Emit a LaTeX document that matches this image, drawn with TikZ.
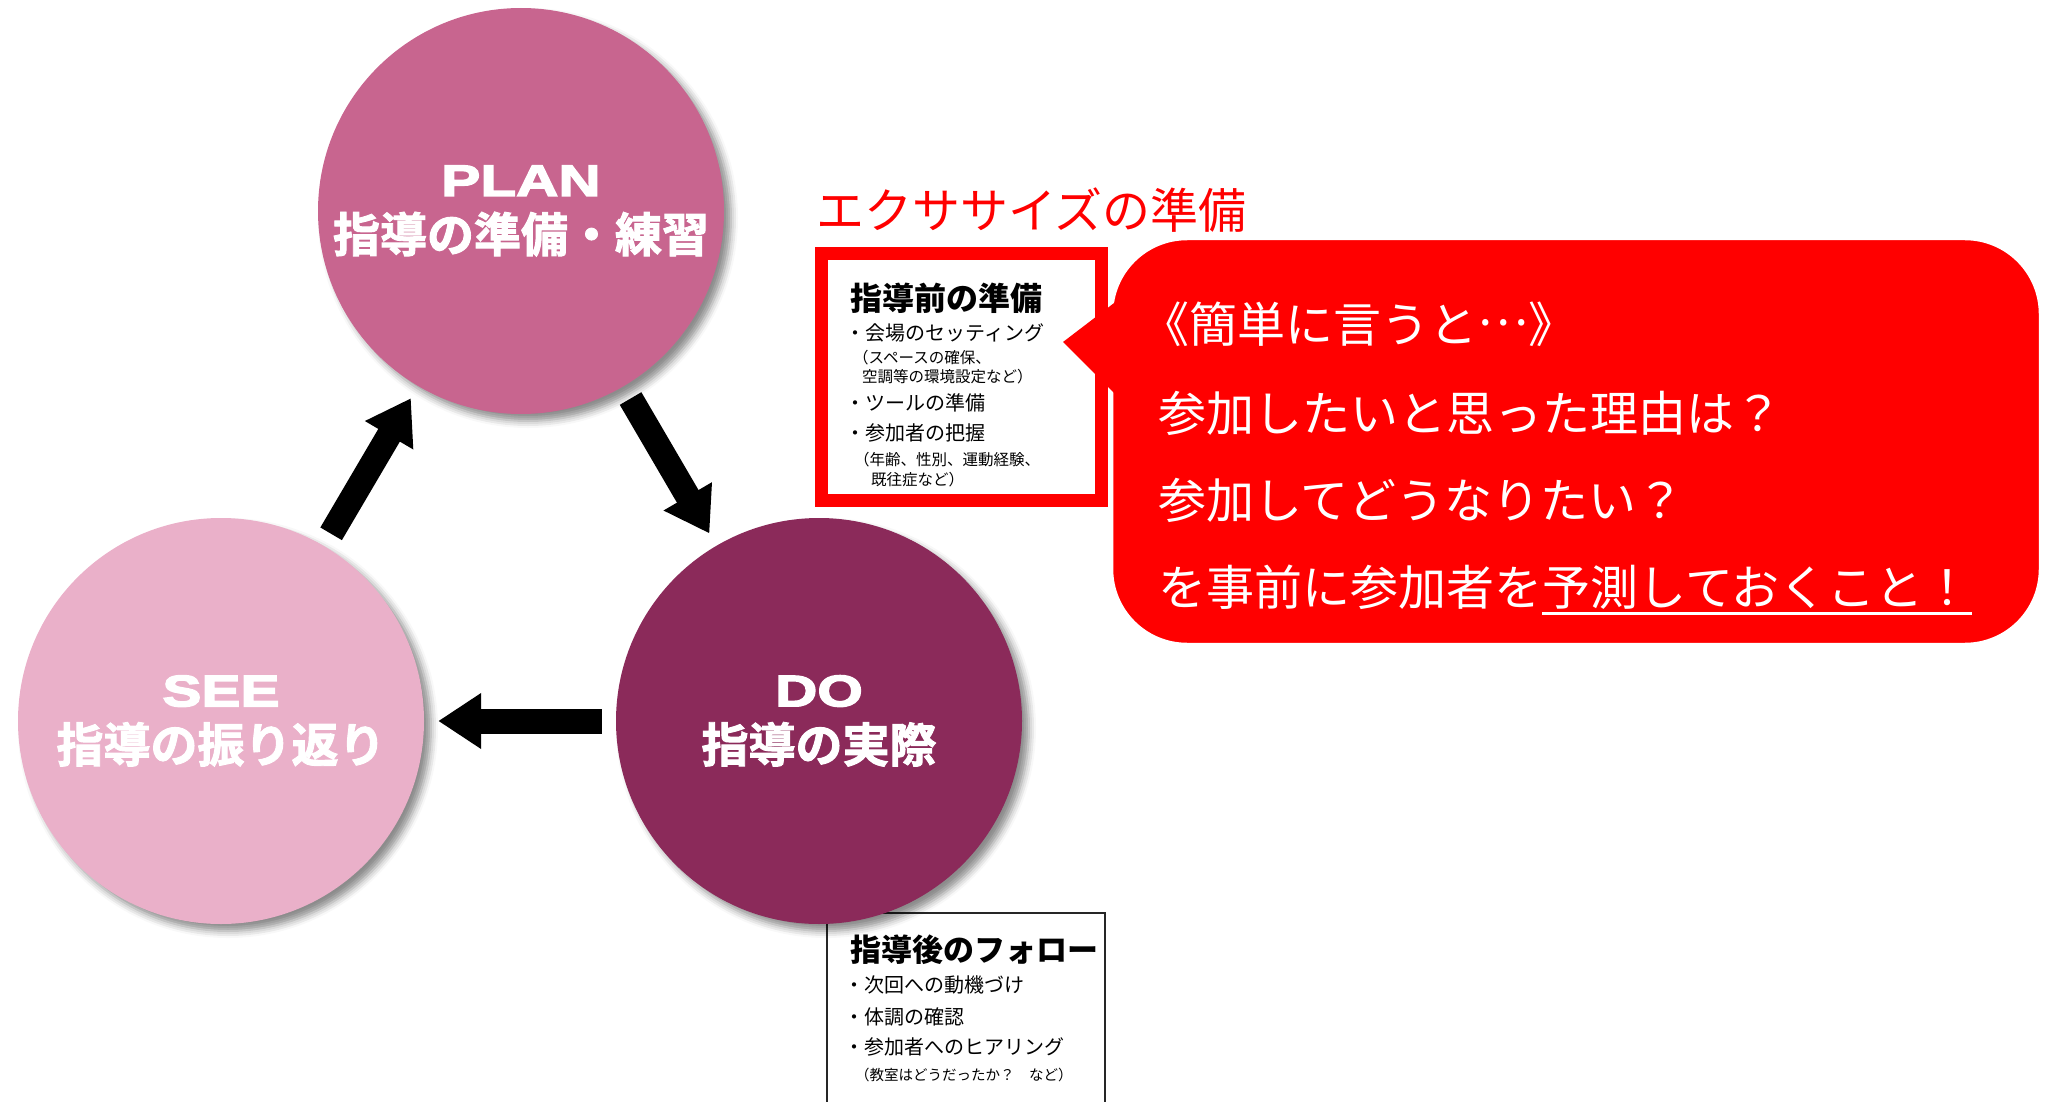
\documentclass[tikz,border=0pt]{standalone}
\usepackage{fontspec}
\setmainfont{Noto Sans CJK JP}
\newfontfamily\widesans[FakeStretch=1.33, FakeBold=3.5]{Liberation Sans Bold}
\newfontfamily\heavyjp[FakeBold=2]{Noto Sans CJK JP Bold}
\usetikzlibrary{positioning,arrows.meta,shadows.blur}

\definecolor{planpink}{RGB}{200,101,143}
\definecolor{doplum}{RGB}{139,42,90}
\definecolor{seepink}{RGB}{234,176,201}
\definecolor{alertred}{RGB}{255,0,0}

\tikzset{
	phasecircle/.style={circle, minimum size=406pt, inner sep=0pt, text=white, align=center,
		font=\fontsize{47}{56}\selectfont\heavyjp,
		blur shadow={shadow xshift=7pt, shadow yshift=-7pt, shadow blur radius=7pt, shadow opacity=45}},
	cyclearrow/.style={line width=25pt, -{Triangle[width=53pt,length=43pt]},
		shorten <=14pt, shorten >=14pt},
	boxtitle/.style={anchor=west, inner sep=0pt, font=\fontsize{32}{32}\selectfont\bfseries},
	boxitem/.style={anchor=west, inner sep=0pt, font=\fontsize{20}{20}\selectfont},
	boxnote/.style={anchor=west, inner sep=0pt, font=\fontsize{15.5}{15.5}\selectfont},
	talk/.style={anchor=west, inner sep=0pt, text=white, font=\fontsize{48}{48}\selectfont}
}

\begin{document}
\begin{tikzpicture}[x=1pt,y=-1pt]
	\useasboundingbox (0,0) rectangle (2046,1102);

	% follow-up box sits under the DO circle
	\node[draw=black!85, line width=1.2pt, minimum width=278pt, minimum height=190pt, inner sep=0pt] (afterbox) at (966,1008) {};

	\node[phasecircle, fill=planpink] (plan) at (521,211)
		{{\widesans\fontsize{44}{56}\selectfont PLAN}\\指導の準備・練習};
	\node[phasecircle, fill=doplum, on grid, below right=510pt and 298pt of plan] (do)
		{{\widesans\fontsize{44}{56}\selectfont DO}\\指導の実際};
	\node[phasecircle, fill=seepink, on grid, left=598pt of do] (see)
		{{\widesans\fontsize{44}{56}\selectfont SEE}\\指導の振り返り};

	\draw[cyclearrow] (see) -- (plan);
	\draw[cyclearrow] (plan) -- (do);
	\draw[cyclearrow] (do) -- (see);

	\node[anchor=west, inner sep=0pt, text=alertred, font=\fontsize{48}{48}\selectfont] (exercise) at (816,210) {エクササイズの準備};

	% before
	\node[draw=alertred, line width=13pt, fill=white, minimum width=280pt, minimum height=247pt, inner sep=0pt] (beforebox) at (961.5,377) {};
	\node[boxtitle] (pretitle) at (850,298) {指導前の準備};
	\node[boxitem] (pre1) at (845,333) {・会場のセッティング};
	\node[boxnote] (pre2) at (853,358) {（スペースの確保、};
	\node[boxnote] (pre3) at (862,377) {空調等の環境設定など）};
	\node[boxitem] (pre4) at (845,403) {・ツールの準備};
	\node[boxitem] (pre5) at (845,433) {・参加者の把握};
	\node[boxnote] (pre6) at (854,460) {（年齢、性別、運動経験、};
	\node[boxnote] (pre7) at (871,480) {既往症など）};

	% after
	\node[boxtitle, font=\fontsize{31}{31}\selectfont\bfseries] (posttitle) at (850,950) {指導後のフォロー};
	\node[boxitem] (post1) at (844,985) {・次回への動機づけ};
	\node[boxitem] (post2) at (844,1017) {・体調の確認};
	\node[boxitem] (post3) at (844,1047) {・参加者へのヒアリング};
	\node[boxnote, font=\fontsize{14.5}{14.5}\selectfont] (post4) at (855,1075) {（教室はどうだったか？　など）};

	% speech bubble
	\node[fill=alertred, draw=white, line width=2.5pt, rounded corners=75pt, minimum width=928pt, minimum height=405pt] (bubble) at (1576,441.5) {};
	\fill[alertred] (1118,300) -- (1063,342) -- (1118,397) -- cycle;

	\node[talk] (say1) at (1141,324) {《簡単に言うと\raisebox{0.34em}{…}》};
	\node[talk] (say2) at (1158,413) {参加したいと思った理由は？};
	\node[talk] (say3) at (1158,500) {参加してどうなりたい？};
	\node[talk] (say4) at (1158,587) {を事前に参加者を};
	\node[talk, base right=0pt of say4] (say5) {予測しておくこと！};
	\draw[white, line width=3pt] ([yshift=-4pt]say5.south west) -- ([yshift=-4pt]say5.south east);

\end{tikzpicture}
\end{document}
